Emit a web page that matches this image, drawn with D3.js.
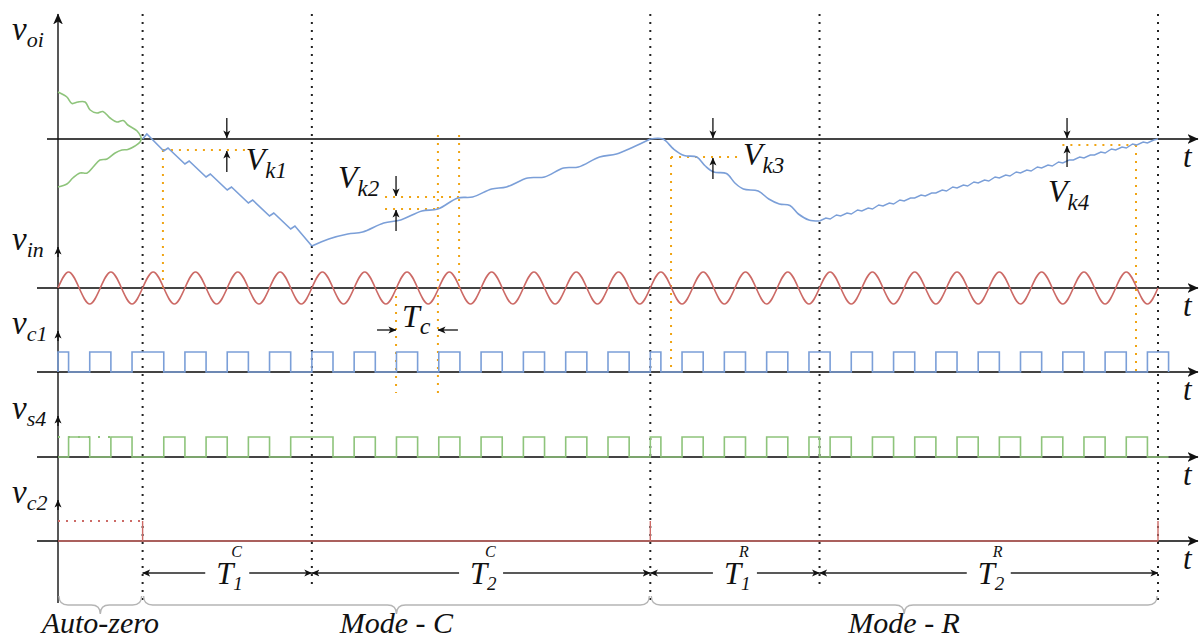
<!DOCTYPE html>
<html>
<head>
<meta charset="utf-8">
<script src="https://cdn.jsdelivr.net/npm/d3@7"></script>
<style>
  body { margin: 0; background: #fff; }
  svg text { font-style: italic; fill: #111; }
</style>
</head>
<body>
<div id="chart"></div>
<script>
// ---- data (time in carrier periods Tc, voltages in arbitrary units) ----
const phaseBounds = [2, 6, 14, 18, 26];
const modeSpans = [[0, 2], [2, 14], [14, 26]];
const modeNames = ["Auto-zero", "Mode - C", "Mode - R"];
const intervalSpans = [[2, 6], [6, 14], [14, 18], [18, 26]];
const intervalSubs = ["1", "2", "1", "2"];
const intervalSups = ["C", "C", "R", "R"];

// v_oi during auto-zero (two settling branches)
const voiAutoUpper = [[0,0.47],[0.21,0.42],[0.33,0.355],[0.47,0.37],[0.64,0.37],[0.76,0.29],[0.92,0.26],[1.06,0.275],
  [1.23,0.21],[1.39,0.17],[1.54,0.185],[1.65,0.14],[1.87,0.08],[1.96,0.02],[1.97,-0.01]];
const voiAutoLower = [[0,-0.48],[0.21,-0.45],[0.35,-0.39],[0.52,-0.34],[0.69,-0.34],[0.83,-0.28],[0.99,-0.21],[1.16,-0.20],
  [1.35,-0.14],[1.51,-0.11],[1.65,-0.105],[1.82,-0.07],[1.94,-0.03],[1.97,0.01]];
// v_oi, mode C
const voiT1C = [[2.0,0],[2.1,0.05],[2.5,-0.12],[2.6,-0.09],[3.0,-0.25],[3.1,-0.22],[3.5,-0.38],[3.6,-0.35],[4.0,-0.51],
  [4.1,-0.48],[4.5,-0.64],[4.6,-0.61],[5.0,-0.77],[5.1,-0.74],[5.5,-0.90],[5.6,-0.87],[6.0,-1.07]];
const voiT2C = [[6.0,-1.07],[6.4,-1.0],[6.85,-0.95],[7.2,-0.93],[7.7,-0.84],[8.1,-0.81],[8.6,-0.72],[8.98,-0.70],
  [9.45,-0.59],[9.8,-0.58],[10.25,-0.50],[10.6,-0.48],[11.1,-0.39],[11.5,-0.38],[11.95,-0.29],[12.3,-0.28],
  [12.8,-0.18],[13.2,-0.15],[13.6,-0.08],[14.0,0]];
// v_oi, mode R
const voiT1R = [[14.0,0],[14.3,0],[14.55,-0.10],[14.8,-0.165],[15.1,-0.18],[15.3,-0.27],[15.5,-0.33],[15.8,-0.345],
  [16.0,-0.44],[16.2,-0.50],[16.55,-0.52],[16.8,-0.60],[17.05,-0.65],[17.3,-0.665],[17.5,-0.75],[17.75,-0.81],[18.0,-0.82]];
const voiT2R = [[18.00,-0.82],[18.15,-0.79],[18.25,-0.80],[18.40,-0.76],[18.50,-0.77],[18.65,-0.74],[18.75,-0.75],[18.90,-0.71],
  [19.00,-0.72],[19.15,-0.69],[19.25,-0.70],[19.40,-0.66],[19.50,-0.67],[19.65,-0.64],[19.75,-0.65],[19.90,-0.61],
  [20.00,-0.62],[20.15,-0.59],[20.25,-0.59],[20.40,-0.56],[20.50,-0.57],[20.65,-0.54],[20.75,-0.54],[20.90,-0.51],
  [21.00,-0.52],[21.15,-0.48],[21.25,-0.49],[21.40,-0.46],[21.50,-0.47],[21.65,-0.43],[21.75,-0.44],[21.90,-0.41],
  [22.00,-0.42],[22.15,-0.38],[22.25,-0.39],[22.40,-0.36],[22.50,-0.37],[22.65,-0.33],[22.75,-0.34],[22.90,-0.31],
  [23.00,-0.32],[23.15,-0.28],[23.25,-0.29],[23.40,-0.26],[23.50,-0.27],[23.65,-0.23],[23.75,-0.24],[23.90,-0.21],
  [24.00,-0.21],[24.15,-0.18],[24.25,-0.19],[24.40,-0.16],[24.50,-0.16],[24.65,-0.13],[24.75,-0.14],[24.90,-0.10],
  [25.00,-0.11],[25.15,-0.08],[25.25,-0.09],[25.40,-0.05],[25.50,-0.06],[25.65,-0.03],[25.75,-0.04],[25.90,-0.01],[26.00,0]];

// v_in, sampled every quarter period
const vinStep = 0.25;
const vinLevels = [
  0,1,0,-1, 0,1,0,-1, 0,1,0,-1, 0,1,0,-1, 0,1,0,-1, 0,1,0,-1, 0,1,0,-1,
  0,1,0,-1, 0,1,0,-1, 0,1,0,-1, 0,1,0,-1, 0,1,0,-1, 0,1,0,-1, 0,1,0,-1,
  0,1,0,-1, 0,1,0,-1, 0,1,0,-1, 0,1,0,-1, 0,1,0,-1, 0,1,0,-1,
  0,1,0,-1, 0,1,0,-1, 0,1,0,-1, 0,1,0,-1, 0,1,0,-1, 0,1,0,-1,
  0
];

// clock high intervals
const vc1Highs = [[0,0.25],[0.75,1.25],[1.75,2.5],[3,3.5],[4,4.5],[5,5.5],[6,6.5],[7,7.5],[8,8.5],[9,9.5],[10,10.5],
  [11,11.5],[12,12.5],[13,13.5],[14,14.25],[14.75,15.25],[15.75,16.25],[16.75,17.25],[17.75,18.25],[18.75,19.25],
  [19.75,20.25],[20.75,21.25],[21.75,22.25],[22.75,23.25],[23.75,24.25],[24.75,25.25],[25.75,26.25]];
const vs4Highs = [[0.25,0.75],[1.25,1.75],[2.5,3],[3.5,4],[4.5,5],[5.5,6.5],[7,7.5],[8,8.5],[9,9.5],[10,10.5],[11,11.5],
  [12,12.5],[13,13.5],[14,14.25],[14.75,15.25],[15.75,16.25],[16.75,17.25],[17.75,18],[18.25,18.75],[19.25,19.75],
  [20.25,20.75],[21.25,21.75],[22.25,22.75],[23.25,23.75],[24.25,24.75],[25.25,25.75]];
const clockEnd = 26.25;
const vs4DottedSpan = [0, 1.25];
const vc2DottedSpan = [0, 2];
const vc2Edges = [2, 14, 26];

// orange guide lines
const hGuides = [[-0.11, 2.48, 4.42], [-0.58, 7.73, 9.48], [-0.70, 7.73, 8.98], [-0.18, 14.49, 16.12], [-0.06, 23.74, 25.48]];
const vGuides = [
  [2.48, "voi", -0.11, "vin", 0],
  [8.98, "voi", 0.04, "vc1", -1.05],
  [9.48, "voi", 0.04, "vin", 0],
  [7.99, "vin", 0, "vc1", -1.05],
  [14.49, "voi", -0.18, "vc1", 0],
  [25.48, "voi", -0.06, "vc1", -0.25]
];
const tcSpan = [7.99, 8.98];
// V_k markers: [name, t, upper level, lower level]
const vkMarks = [["k1", 3.99, 0, -0.11], ["k2", 7.99, -0.58, -0.70], ["k3", 15.48, 0, -0.18], ["k4", 23.85, 0, -0.06]];

// ---- drawing ----
const W = 1200, H = 641;
const svg = d3.select("#chart").append("svg").attr("width", W).attr("height", H);
svg.append("rect").attr("width", W).attr("height", H).attr("fill", "#fff");

// pick the first installed serif face (compare against a monospace fallback)
function hasFont(name) {
  const probe = svg.append("text").attr("x", -500).attr("y", -500).style("font-size", "40px").text("Mode - zero vc1 T");
  probe.style("font-family", "monospace");
  const base = probe.node().getComputedTextLength();
  probe.style("font-family", `'${name}', monospace`);
  const w = probe.node().getComputedTextLength();
  probe.remove();
  return Math.abs(w - base) > 0.5;
}
const serifFace = ["Liberation Serif", "Times New Roman", "Tinos", "DejaVu Serif", "Noto Serif", "FreeSerif", "Nimbus Roman"]
  .find(hasFont);
svg.style("font-family", serifFace ? `'${serifFace}', serif` : "serif");

const x = d3.scaleLinear().domain([0, 26]).range([58, 1158]);
const rows = {
  voi: d3.scaleLinear().domain([-1, 1]).range([239, 39]),
  vin: d3.scaleLinear().domain([-1, 1]).range([304, 272]),
  vc1: d3.scaleLinear().domain([0, 1]).range([372, 352]),
  vs4: d3.scaleLinear().domain([0, 1]).range([457, 437]),
  vc2: d3.scaleLinear().domain([0, 1]).range([541, 521])
};
const rowKeys = ["voi", "vin", "vc1", "vs4", "vc2"];
const rowSubs = ["oi", "in", "c1", "s4", "c2"];

const BLUE = "#7b9fd8", GREEN = "#8ec47b", RED = "#cc6a66", ORANGE = "#f0a514", GREY = "#b5b5b5";

const defs = svg.append("defs");
function marker(id, size) {
  defs.append("marker").attr("id", id).attr("viewBox", "0 0 10 10")
    .attr("refX", 9.5).attr("refY", 5).attr("markerWidth", size).attr("markerHeight", size)
    .attr("markerUnits", "userSpaceOnUse").attr("orient", "auto")
    .append("path").attr("d", "M0,0.6 L10,5 L0,9.4 L2.6,5 Z").attr("fill", "#111");
}
marker("ax", 11);
marker("sm", 8);

// horizontal axes
rowKeys.forEach((k, i) => {
  const y0 = rows[k](0);
  svg.append("line").attr("x1", i === 0 ? 47 : 37).attr("x2", 1198).attr("y1", y0).attr("y2", y0)
    .attr("stroke", "#444").attr("stroke-width", 1.8).attr("marker-end", "url(#ax)");
  svg.append("text").attr("x", 1183).attr("y", y0 + 28).style("font-size", "31px").text("t");
});

// vertical axis with an arrow at every signal
svg.append("line").attr("x1", 58).attr("x2", 58).attr("y1", 603).attr("y2", 14)
  .attr("stroke", "#111").attr("stroke-width", 1.4).attr("marker-end", "url(#ax)");
rowKeys.slice(1).forEach(k => {
  const tip = rows[k](0) - 41;
  svg.append("line").attr("x1", 58).attr("x2", 58).attr("y1", tip + 10).attr("y2", tip)
    .attr("stroke", "#111").attr("stroke-width", 1.4).attr("marker-end", "url(#sm)");
});

// signal names
rowKeys.forEach((k, i) => {
  const base = i === 0 ? 40 : rows[k](0) - 38;
  const t = svg.append("text").attr("x", 12).attr("y", base).style("font-size", "33px");
  t.append("tspan").text("v");
  t.append("tspan").attr("dy", 7).style("font-size", "22px").text(rowSubs[i]);
});

// phase boundaries
const modeEnds = new Set(modeSpans.map(d => d[1]));
svg.append("g").selectAll("line").data(phaseBounds).join("line")
  .attr("x1", d => x(d)).attr("x2", d => x(d)).attr("y1", 14)
  .attr("y2", d => modeEnds.has(d) ? 606 : 584)
  .attr("stroke", "#222").attr("stroke-width", 2).attr("stroke-dasharray", "2,6");

// orange guides
const og = svg.append("g").attr("stroke", ORANGE).attr("stroke-width", 2).attr("stroke-dasharray", "2,6").attr("fill", "none");
og.selectAll(".h").data(hGuides).join("line")
  .attr("x1", d => x(d[1])).attr("x2", d => x(d[2]))
  .attr("y1", d => rows.voi(d[0])).attr("y2", d => rows.voi(d[0]));
og.selectAll(".v").data(vGuides).join("line")
  .attr("x1", d => x(d[0])).attr("x2", d => x(d[0]))
  .attr("y1", d => rows[d[1]](d[2])).attr("y2", d => rows[d[3]](d[4]));

// v_oi traces
const voiLine = curve => d3.line().x(d => x(d[0])).y(d => rows.voi(d[1])).curve(curve);
const cr = d3.curveCatmullRom.alpha(0.5);
[voiAutoUpper, voiAutoLower].forEach(d => svg.append("path").attr("d", voiLine(cr)(d))
  .attr("fill", "none").attr("stroke", GREEN).attr("stroke-width", 1.6));
svg.append("path").attr("d", voiLine(d3.curveLinear)(voiT1C)).attr("fill", "none").attr("stroke", BLUE).attr("stroke-width", 1.6);
svg.append("path").attr("d", voiLine(cr)(voiT2C)).attr("fill", "none").attr("stroke", BLUE).attr("stroke-width", 1.6);
svg.append("path").attr("d", voiLine(cr)(voiT1R)).attr("fill", "none").attr("stroke", BLUE).attr("stroke-width", 1.6);
svg.append("path").attr("d", voiLine(d3.curveLinear)(voiT2R)).attr("fill", "none").attr("stroke", BLUE).attr("stroke-width", 1.4);

// v_in
svg.append("path")
  .attr("d", d3.line().x((d, i) => x(i * vinStep)).y(d => rows.vin(d)).curve(d3.curveNatural)(vinLevels))
  .attr("fill", "none").attr("stroke", RED).attr("stroke-width", 1.6);

// clocks
function pulsePoints(highs, end) {
  const pts = [[0, 0]];
  highs.forEach(([a, b]) => { pts.push([a, 0], [a, 1], [b, 1], [b, 0]); });
  pts.push([end, 0]);
  return pts;
}
const stepLine = s => d3.line().x(d => x(d[0])).y(d => s(d[1]));
svg.append("path").attr("d", stepLine(rows.vs4)([[vs4DottedSpan[0], 1], [vs4DottedSpan[1], 1]]))
  .attr("fill", "none").attr("stroke", GREEN).attr("stroke-width", 1.8).attr("stroke-dasharray", "2,8");
svg.append("path").attr("d", stepLine(rows.vc1)(pulsePoints(vc1Highs, clockEnd)))
  .attr("fill", "none").attr("stroke", BLUE).attr("stroke-width", 1.6);
svg.append("path").attr("d", stepLine(rows.vs4)(pulsePoints(vs4Highs, clockEnd)))
  .attr("fill", "none").attr("stroke", GREEN).attr("stroke-width", 1.6);

// v_c2
svg.append("path").attr("d", stepLine(rows.vc2)([[vc2DottedSpan[0], 1], [vc2DottedSpan[1], 1]]))
  .attr("fill", "none").attr("stroke", RED).attr("stroke-width", 1.8).attr("stroke-dasharray", "2,6");
svg.append("path").attr("d", stepLine(rows.vc2)([[0, 0], [26, 0]]))
  .attr("fill", "none").attr("stroke", RED).attr("stroke-width", 1.4);
svg.append("g").selectAll("line").data(vc2Edges).join("line")
  .attr("x1", d => x(d)).attr("x2", d => x(d)).attr("y1", rows.vc2(0)).attr("y2", rows.vc2(1))
  .attr("stroke", RED).attr("stroke-width", 1.4);

// V_k markers
const vkLabelPos = { k1: [19, 170], k2: [-58, 188], k3: [30, 165], k4: [-19, 202] };
vkMarks.forEach(([name, t, hi, lo]) => {
  const xx = x(t);
  svg.append("line").attr("x1", xx).attr("x2", xx).attr("y1", rows.voi(hi) - 21).attr("y2", rows.voi(hi) - 1)
    .attr("stroke", "#111").attr("stroke-width", 1.3).attr("marker-end", "url(#sm)");
  svg.append("line").attr("x1", xx).attr("x2", xx).attr("y1", rows.voi(lo) + 22).attr("y2", rows.voi(lo) + 1)
    .attr("stroke", "#111").attr("stroke-width", 1.3).attr("marker-end", "url(#sm)");
  const [dx, base] = vkLabelPos[name];
  const tx = svg.append("text").attr("x", xx + dx).attr("y", base).style("font-size", "32px");
  tx.append("tspan").text("V");
  tx.append("tspan").attr("dy", 8).style("font-size", "23px").text(name);
});

// T_c
const tcY = 330;
svg.append("line").attr("x1", x(tcSpan[0]) - 19).attr("x2", x(tcSpan[0])).attr("y1", tcY).attr("y2", tcY)
  .attr("stroke", "#111").attr("stroke-width", 1.3).attr("marker-end", "url(#sm)");
svg.append("line").attr("x1", x(tcSpan[1]) + 20).attr("x2", x(tcSpan[1])).attr("y1", tcY).attr("y2", tcY)
  .attr("stroke", "#111").attr("stroke-width", 1.3).attr("marker-end", "url(#sm)");
const tcT = svg.append("text").attr("x", x(tcSpan[0]) + 6).attr("y", 327).style("font-size", "32px");
tcT.append("tspan").text("T");
tcT.append("tspan").attr("dy", 7).style("font-size", "24px").text("c");

// interval arrows
const arrY = 573;
intervalSpans.forEach(([a, b], i) => {
  const x1 = x(a), x2 = x(b), mid = (x1 + x2) / 2;
  svg.append("line").attr("x1", mid - 22).attr("x2", x1).attr("y1", arrY).attr("y2", arrY)
    .attr("stroke", "#222").attr("stroke-width", 1.3).attr("marker-end", "url(#sm)");
  svg.append("line").attr("x1", mid + 22).attr("x2", x2).attr("y1", arrY).attr("y2", arrY)
    .attr("stroke", "#222").attr("stroke-width", 1.3).attr("marker-end", "url(#sm)");
  svg.append("text").attr("x", mid - 11).attr("y", 584).style("font-size", "31px").text("T");
  svg.append("text").attr("x", mid + 6).attr("y", 590).style("font-size", "19px").text(intervalSubs[i]);
  svg.append("text").attr("x", mid + 4).attr("y", 557).style("font-size", "16px").text(intervalSups[i]);
});

// braces and mode names
const braceY = 605;
function brace(x1, x2) {
  const m = (x1 + x2) / 2, r = 9;
  return `M${x1},${braceY - r} Q${x1},${braceY} ${x1 + r},${braceY} L${m - r},${braceY} Q${m},${braceY} ${m},${braceY + r}` +
    ` Q${m},${braceY} ${m + r},${braceY} L${x2 - r},${braceY} Q${x2},${braceY} ${x2},${braceY - r}`;
}
modeSpans.forEach(([a, b], i) => {
  svg.append("path").attr("d", brace(x(a) + 1, x(b) - 1)).attr("fill", "none").attr("stroke", GREY).attr("stroke-width", 1.4);
  svg.append("text").attr("x", (x(a) + x(b)) / 2).attr("y", 633).attr("text-anchor", "middle")
    .style("font-size", "30px").text(modeNames[i]);
});
</script>
</body>
</html>
